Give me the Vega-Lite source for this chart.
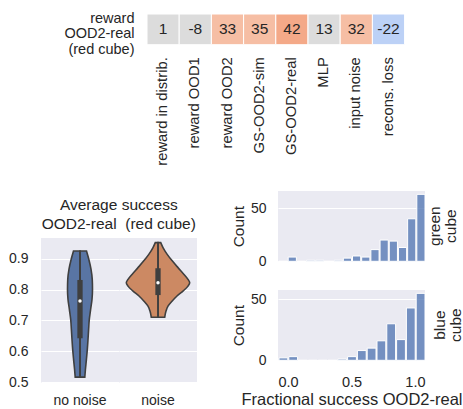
{
  "$schema": "https://vega.github.io/schema/vega-lite/v6.json",
  "background": "white",
  "padding": {"left": 8, "top": 10, "right": 2, "bottom": 0},
  "config": {
    "font": "Liberation Sans",
    "view": {"fill": "#eaeaf2", "stroke": null},
    "axis": {"domain": false, "ticks": false, "gridColor": "white", "gridWidth": 1.2, "labelColor": "#262626", "titleColor": "#262626", "labelFontSize": 14, "titleFontSize": 15.5, "titleFontWeight": "normal", "labelPadding": 13, "labelOverlap": false},
    "title": {"color": "#262626", "fontWeight": "normal", "fontSize": 15},
    "header": {"labelColor": "#262626", "labelFontSize": 14}
  },
  "datasets": {
    "hist": [
      {"cube": "green", "bin_start": 0.0, "bin_end": 0.0625, "count": 0},
      {"cube": "green", "bin_start": 0.0625, "bin_end": 0.125, "count": 4},
      {"cube": "green", "bin_start": 0.125, "bin_end": 0.1875, "count": 0},
      {"cube": "green", "bin_start": 0.1875, "bin_end": 0.25, "count": 1},
      {"cube": "green", "bin_start": 0.25, "bin_end": 0.3125, "count": 1},
      {"cube": "green", "bin_start": 0.3125, "bin_end": 0.375, "count": 0},
      {"cube": "green", "bin_start": 0.375, "bin_end": 0.4375, "count": 1},
      {"cube": "green", "bin_start": 0.4375, "bin_end": 0.5, "count": 3},
      {"cube": "green", "bin_start": 0.5, "bin_end": 0.5625, "count": 5},
      {"cube": "green", "bin_start": 0.5625, "bin_end": 0.625, "count": 4},
      {"cube": "green", "bin_start": 0.625, "bin_end": 0.6875, "count": 11},
      {"cube": "green", "bin_start": 0.6875, "bin_end": 0.75, "count": 20},
      {"cube": "green", "bin_start": 0.75, "bin_end": 0.8125, "count": 19},
      {"cube": "green", "bin_start": 0.8125, "bin_end": 0.875, "count": 13},
      {"cube": "green", "bin_start": 0.875, "bin_end": 0.9375, "count": 40},
      {"cube": "green", "bin_start": 0.9375, "bin_end": 1.0, "count": 63},
      {"cube": "blue", "bin_start": 0.0, "bin_end": 0.0667, "count": 2},
      {"cube": "blue", "bin_start": 0.0667, "bin_end": 0.1333, "count": 3},
      {"cube": "blue", "bin_start": 0.1333, "bin_end": 0.2, "count": 0},
      {"cube": "blue", "bin_start": 0.2, "bin_end": 0.2667, "count": 0},
      {"cube": "blue", "bin_start": 0.2667, "bin_end": 0.3333, "count": 0},
      {"cube": "blue", "bin_start": 0.3333, "bin_end": 0.4, "count": 0},
      {"cube": "blue", "bin_start": 0.4, "bin_end": 0.4667, "count": 1},
      {"cube": "blue", "bin_start": 0.4667, "bin_end": 0.5333, "count": 3},
      {"cube": "blue", "bin_start": 0.5333, "bin_end": 0.6, "count": 8},
      {"cube": "blue", "bin_start": 0.6, "bin_end": 0.6667, "count": 10},
      {"cube": "blue", "bin_start": 0.6667, "bin_end": 0.7333, "count": 16},
      {"cube": "blue", "bin_start": 0.7333, "bin_end": 0.8, "count": 30},
      {"cube": "blue", "bin_start": 0.8, "bin_end": 0.8667, "count": 17},
      {"cube": "blue", "bin_start": 0.8667, "bin_end": 0.9333, "count": 43},
      {"cube": "blue", "bin_start": 0.9333, "bin_end": 1.0, "count": 55}
    ]
  },
  "align": "none",
  "spacing": 25,
  "vconcat": [
    {
      "spacing": 0,
      "align": "none",
      "hconcat": [
        {
          "width": 22, "height": 30,
          "view": {"fill": null},
          "data": {"values": []},
          "mark": "point",
          "encoding": {}
        },
        {
          "data": {"values": [
            {"metric": "reward OOD2-real (red cube)", "model": "reward in distrib.", "value": 1},
            {"metric": "reward OOD2-real (red cube)", "model": "reward OOD1", "value": -8},
            {"metric": "reward OOD2-real (red cube)", "model": "reward OOD2", "value": 33},
            {"metric": "reward OOD2-real (red cube)", "model": "GS-OOD2-sim", "value": 35},
            {"metric": "reward OOD2-real (red cube)", "model": "GS-OOD2-real", "value": 42},
            {"metric": "reward OOD2-real (red cube)", "model": "MLP", "value": 13},
            {"metric": "reward OOD2-real (red cube)", "model": "input noise", "value": 32},
            {"metric": "reward OOD2-real (red cube)", "model": "recons. loss", "value": -22}
          ]},
          "width": 257.6, "height": 30.7,
          "view": {"fill": "white"},
          "encoding": {
            "x": {"field": "model", "type": "nominal", "sort": null, "scale": {"paddingInner": 0, "paddingOuter": 0}, "axis": {"labelAngle": -90, "title": null, "labelPadding": 12, "labelFontSize": 14.8, "grid": false}},
            "y": {"field": "metric", "type": "nominal", "axis": {"title": null, "labelExpr": "['reward', 'OOD2-real', '(red cube)']", "labelFontSize": 14.5, "labelLineHeight": 15.5, "labelPadding": 13, "labelOffset": -10.5, "grid": false}}
          },
          "layer": [
            {"mark": {"type": "rect", "stroke": "white", "strokeWidth": 1},
             "encoding": {"color": {"field": "value", "type": "quantitative", "scale": {"type": "threshold", "domain": [-15, 20, 40], "range": ["#bcd1f6", "#dcdcdc", "#f6bea4", "#f4a988"]}, "legend": null}}},
            {"mark": {"type": "text", "fontSize": 15.5, "color": "#262626"},
             "encoding": {"text": {"field": "value", "type": "nominal"}}}
          ]
        }
      ]
    },
    {
      "spacing": 34,
      "align": "none",
      "hconcat": [
        {
          "spacing": 0,
          "align": "none",
          "vconcat": [
            {
              "width": 1, "height": 7,
              "view": {"fill": null},
              "data": {"values": []},
              "mark": "point",
              "encoding": {}
            },
            {
              "data": {"values": [
                {"kind": "outline", "group": "no noise", "value": 0.925, "density": 1.30},
                {"kind": "outline", "group": "no noise", "value": 0.898, "density": 1.76},
                {"kind": "outline", "group": "no noise", "value": 0.866, "density": 2.20},
                {"kind": "outline", "group": "no noise", "value": 0.833, "density": 2.45},
                {"kind": "outline", "group": "no noise", "value": 0.800, "density": 2.50},
                {"kind": "outline", "group": "no noise", "value": 0.768, "density": 2.40},
                {"kind": "outline", "group": "no noise", "value": 0.735, "density": 2.12},
                {"kind": "outline", "group": "no noise", "value": 0.703, "density": 1.86},
                {"kind": "outline", "group": "no noise", "value": 0.670, "density": 1.72},
                {"kind": "outline", "group": "no noise", "value": 0.638, "density": 1.60},
                {"kind": "outline", "group": "no noise", "value": 0.605, "density": 1.46},
                {"kind": "outline", "group": "no noise", "value": 0.573, "density": 1.28},
                {"kind": "outline", "group": "no noise", "value": 0.540, "density": 1.08},
                {"kind": "outline", "group": "no noise", "value": 0.516, "density": 0.96},
                {"kind": "outline", "group": "noise", "value": 0.952, "density": 0.54},
                {"kind": "outline", "group": "noise", "value": 0.936, "density": 1.00},
                {"kind": "outline", "group": "noise", "value": 0.914, "density": 1.84},
                {"kind": "outline", "group": "noise", "value": 0.893, "density": 2.84},
                {"kind": "outline", "group": "noise", "value": 0.871, "density": 4.00},
                {"kind": "outline", "group": "noise", "value": 0.849, "density": 5.20},
                {"kind": "outline", "group": "noise", "value": 0.833, "density": 6.00},
                {"kind": "outline", "group": "noise", "value": 0.822, "density": 6.34},
                {"kind": "outline", "group": "noise", "value": 0.811, "density": 6.00},
                {"kind": "outline", "group": "noise", "value": 0.795, "density": 5.00},
                {"kind": "outline", "group": "noise", "value": 0.779, "density": 3.80},
                {"kind": "outline", "group": "noise", "value": 0.762, "density": 2.80},
                {"kind": "outline", "group": "noise", "value": 0.746, "density": 2.00},
                {"kind": "outline", "group": "noise", "value": 0.730, "density": 1.60},
                {"kind": "outline", "group": "noise", "value": 0.710, "density": 1.34},
                {"kind": "box", "group": "no noise", "min": 0.516, "q1": 0.642, "median": 0.763, "q3": 0.831, "max": 0.925},
                {"kind": "box", "group": "noise", "min": 0.710, "q1": 0.782, "median": 0.822, "q3": 0.869, "max": 0.952}
              ]},
              "title": {"text": ["Average success", "OOD2-real\u00a0 (red cube)"], "fontSize": 15.5, "lineHeight": 18.5, "offset": 6, "anchor": "middle", "dx": 16},
              "facet": {"column": {"field": "group", "type": "nominal", "sort": ["no noise", "noise"], "header": {"labelOrient": "bottom", "titleOrient": "bottom", "title": null, "labelFontSize": 14, "labelPadding": 11}}},
              "spacing": 0,
              "spec": {
                "width": 78, "height": 145,
                "resolve": {"scale": {"x": "independent"}},
                "layer": [
                  {
                    "transform": [{"filter": "datum.kind === 'outline'"}],
                    "mark": {"type": "area", "orient": "horizontal", "stroke": "#3f3f3f", "strokeWidth": 1.6, "interpolate": "monotone", "opacity": 1},
                    "encoding": {
                      "y": {"field": "value", "type": "quantitative", "scale": {"domain": [0.497, 0.967], "nice": false, "zero": false}, "axis": {"values": [0.5, 0.6, 0.7, 0.8, 0.9], "format": ".1f", "title": null, "labelPadding": 13, "labelOverlap": false}},
                      "x": {"field": "density", "type": "quantitative", "scale": {"domain": [-7.8, 7.8], "nice": false, "zero": false}, "axis": null},
                      "x2": {"datum": 0},
                      "color": {"field": "group", "type": "nominal", "scale": {"domain": ["no noise", "noise"], "range": ["#5975a4", "#cc8963"]}, "legend": null}
                    }
                  },
                  {
                    "transform": [{"filter": "datum.kind === 'outline'"}],
                    "mark": {"type": "area", "orient": "horizontal", "stroke": "#3f3f3f", "strokeWidth": 1.6, "interpolate": "monotone", "opacity": 1},
                    "encoding": {
                      "y": {"field": "value", "type": "quantitative", "axis": {"values": [0.5, 0.6, 0.7, 0.8, 0.9], "format": ".1f", "title": null, "labelPadding": 13, "labelOverlap": false}},
                      "x": {"field": "density", "type": "quantitative", "scale": {"domain": [-7.8, 7.8], "nice": false, "zero": false, "reverse": true}, "axis": null},
                      "x2": {"datum": 0},
                      "color": {"field": "group", "type": "nominal", "legend": null}
                    }
                  },
                  {
                    "transform": [{"filter": "datum.kind === 'box'"}],
                    "mark": {"type": "rule", "color": "#3f3f3f", "strokeWidth": 1.6},
                    "encoding": {"y": {"field": "min", "type": "quantitative", "axis": {"values": [0.5, 0.6, 0.7, 0.8, 0.9], "format": ".1f", "title": null, "labelPadding": 13, "labelOverlap": false}}, "y2": {"field": "max"}, "x": {"datum": 0, "scale": {"domain": [-7.8, 7.8], "nice": false}, "axis": null}}
                  },
                  {
                    "transform": [{"filter": "datum.kind === 'box'"}],
                    "mark": {"type": "rule", "color": "#3f3f3f", "strokeWidth": 5.3},
                    "encoding": {"y": {"field": "q1", "type": "quantitative", "axis": {"values": [0.5, 0.6, 0.7, 0.8, 0.9], "format": ".1f", "title": null, "labelPadding": 13, "labelOverlap": false}}, "y2": {"field": "q3"}, "x": {"datum": 0, "scale": {"domain": [-7.8, 7.8], "nice": false}, "axis": null}}
                  },
                  {
                    "transform": [{"filter": "datum.kind === 'box'"}],
                    "mark": {"type": "point", "filled": true, "color": "white", "size": 12, "opacity": 1},
                    "encoding": {"y": {"field": "median", "type": "quantitative", "axis": {"values": [0.5, 0.6, 0.7, 0.8, 0.9], "format": ".1f", "title": null, "labelPadding": 13, "labelOverlap": false}}, "x": {"datum": 0, "scale": {"domain": [-7.8, 7.8], "nice": false}, "axis": null}}
                  }
                ]
              }
            }
          ]
        },
        {
          "spacing": 21,
          "align": "none",
          "vconcat": [
            {
              "data": {"name": "hist"},
              "transform": [{"filter": "datum.cube === 'green'"}],
              "width": 147, "height": 70.3,
              "title": {"text": ["green", "cube"], "orient": "right", "angle": -90, "fontSize": 15.5, "lineHeight": 16, "offset": -29, "anchor": "middle"},
              "mark": {"type": "bar", "color": "#4c72b0", "fillOpacity": 0.75, "stroke": "white", "strokeWidth": 1},
              "encoding": {
                "x": {"field": "bin_start", "type": "quantitative", "bin": {"binned": true}, "scale": {"domain": [0, 1], "nice": false}, "axis": {"values": [0, 0.5, 1], "labels": false, "title": null}},
                "x2": {"field": "bin_end"},
                "y": {"field": "count", "type": "quantitative", "scale": {"domain": [0, 66.15], "nice": false}, "axis": {"values": [0, 50], "title": "Count", "titlePadding": 4, "labelPadding": 12}}
              }
            },
            {
              "data": {"name": "hist"},
              "transform": [{"filter": "datum.cube === 'blue'"}],
              "width": 147, "height": 70.3,
              "title": {"text": ["blue", "cube"], "orient": "right", "angle": -90, "fontSize": 15.5, "lineHeight": 16, "offset": -60, "anchor": "middle"},
              "mark": {"type": "bar", "color": "#4c72b0", "fillOpacity": 0.75, "stroke": "white", "strokeWidth": 1},
              "encoding": {
                "x": {"field": "bin_start", "type": "quantitative", "bin": {"binned": true}, "scale": {"domain": [0, 1], "nice": false}, "axis": {"values": [0, 0.5, 1], "format": ".1f", "title": "Fractional success OOD2-real", "labelFontSize": 14.5, "labelPadding": 15, "titleFontSize": 16.5, "titlePadding": 3}},
                "x2": {"field": "bin_end"},
                "y": {"field": "count", "type": "quantitative", "scale": {"domain": [0, 57.75], "nice": false}, "axis": {"values": [0, 50], "title": "Count", "titlePadding": 4, "labelPadding": 12}}
              }
            }
          ]
        }
      ]
    }
  ]
}
